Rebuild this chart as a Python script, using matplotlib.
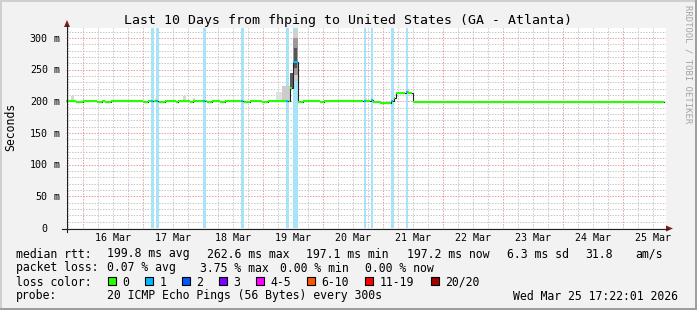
import matplotlib
matplotlib.use("Agg")
import matplotlib.pyplot as plt
from matplotlib.patches import Polygon, Rectangle
from matplotlib.lines import Line2D

W, H = 697, 310
MONO = "DejaVu Sans Mono"

# time axis in days after 16 Mar 00:00 (graph ends Wed Mar 25 17:22:01)
T_START, T_END = -0.2764, 9.7236
Y_MAX = 315.8

day_labels = ["16 Mar", "17 Mar", "18 Mar", "19 Mar", "20 Mar",
              "21 Mar", "22 Mar", "23 Mar", "24 Mar", "25 Mar"]
y_ticks = [0, 50, 100, 150, 200, 250, 300]
y_tick_nums = ["0", "50", "100", "150", "200", "250", "300"]

# median rtt as steps: start of step (days), value (ms), lost pings (of 20)
seg_start = [-0.276, -0.108, 0.008, 0.242, 0.325, 0.375, 0.475, 1.008, 1.092,
             1.142, 1.183, 1.225, 1.267, 1.375, 1.558, 1.592, 1.792, 1.842,
             2.008, 2.050, 2.075, 2.158, 2.292, 2.375, 2.642, 2.683, 2.792,
             2.992, 3.092, 3.392, 3.433, 3.458, 3.500, 3.592, 3.675, 3.958,
             4.025, 4.683, 4.725, 4.800, 4.842, 4.958, 5.142, 5.183, 5.217,
             5.383, 5.425, 5.500, 5.958, 6.008, 6.708, 6.775, 7.292, 7.358,
             7.958, 8.008, 8.625, 8.692, 9.292, 9.342]
seg_value = [199.9, 198.4, 199.9, 198.4, 199.9, 198.4, 199.9, 198.4, 199.9,
             199.9, 199.9, 201.0, 198.4, 199.9, 198.4, 199.9, 198.4, 199.9,
             199.9, 199.9, 198.4, 199.9, 198.4, 199.9, 199.9, 198.4, 199.9,
             198.4, 199.9, 199.9, 199.9, 221.0, 262.6, 198.4, 199.9, 198.4,
             199.9, 199.9, 199.9, 202.0, 198.4, 197.5, 199.9, 205.0, 212.7,
             214.0, 212.7, 199.4, 198.4, 199.4, 198.4, 199.4, 198.4, 199.4,
             198.4, 199.4, 198.4, 199.4, 198.4, 199.4]
seg_loss = [0, 0, 0, 0, 0, 0, 0, 0, 0,
            1, 0, 1, 0, 0, 0, 0, 0, 0,
            1, 0, 0, 0, 0, 0, 1, 0, 0,
            0, 0, 1, 0, 0, 1, 0, 0, 0,
            0, 1, 0, 1, 0, 0, 1, 0, 0,
            1, 0, 0, 0, 0, 0, 0, 0, 0,
            0, 0, 0, 0, 0, 0]

# smoke (spread of the 20 pings): start, end, low, high, shade
smoke_t0 = [-0.192, 1.208, 1.675, 1.842, 3.225, 3.325, 3.458, 3.500, 3.508, 3.525, 5.383, 4.690]
smoke_t1 = [-0.142, 1.258, 1.725, 1.875, 3.392, 3.458, 3.500, 3.592, 3.585, 3.570, 5.433, 4.740]
smoke_lo = [200, 200, 200, 200, 200, 200, 221, 232, 242, 252, 213, 200]
smoke_hi = [208, 206, 209, 205, 215, 224, 245, 313, 300, 285, 220, 205]
smoke_shade = ["#d6d6d6", "#d6d6d6", "#d6d6d6", "#d6d6d6", "#e0e0e0", "#cccccc",
               "#5a5a5a", "#d0d0d0", "#9a9a9a", "#555555", "#cccccc", "#d6d6d6"]

loss_names = ["0", "1", "2", "3", "4-5", "6-10", "11-19", "20/20"]
loss_colors = ["#26ff00", "#00b8ff", "#0059ff", "#7e00ff",
               "#ff00ff", "#ff5500", "#ff0000", "#a10000"]
loss_bar_colors = ["#26ff00", "#a8e4f8", "#a0bcff", "#cca6ff",
                   "#ffa6ff", "#ffbea6", "#ffa6a6", "#d9a6a6"]

legend_rtt = [("median rtt:", 16), ("199.8 ms avg", 107.3), ("262.6 ms max", 207.3),
              ("197.1 ms min", 306.0), ("197.2 ms now", 406.7), ("6.3 ms sd", 507.3),
              ("31.8", 585.7), ("am/s", 635.0)]
legend_loss = [("packet loss:", 16), ("0.07 % avg", 107.3), ("3.75 % max", 200.0),
               ("0.00 % min", 280.5), ("0.00 % now", 365.0)]
loss_box_x = [107.7, 145.4, 182.1, 218.8, 255.5, 307.2, 365.3, 430.5]


def fx(x):
    return x / W


def fy(y):
    return 1 - y / H


def lgd_class(n):
    if n <= 3:
        return n
    if n <= 5:
        return 4
    if n <= 10:
        return 5
    if n <= 19:
        return 6
    return 7


fig = plt.figure(figsize=(W / 100, H / 100), dpi=100)
fig.patch.set_facecolor("#f2f2f2")

ax = fig.add_axes([fx(66), fy(228), 600 / W, 200 / H])
ax.set_facecolor("white")
ax.set_xlim(T_START, T_END)
ax.set_ylim(0, Y_MAX)
ax.set_xticks([])
ax.set_yticks([])
for s in ax.spines.values():
    s.set_visible(False)

dots = (0, (1.4, 1.4))
# vertical grid: minor every 6 h, major at midnight
for q in range(-1, 40):
    t = q / 4
    if t <= T_START or t >= T_END:
        continue
    if q % 4 == 0:
        ax.axvline(t, color="#ec9a9a", lw=0.72, ls=dots, zorder=1)
    else:
        ax.axvline(t, color="#c6c6c6", lw=0.72, ls=dots, zorder=1)
# horizontal grid: minor every 10 ms, major every 50 ms
for v in range(10, 320, 10):
    if v % 50 == 0:
        ax.axhline(v, color="#ec9a9a", lw=0.72, ls=dots, zorder=1)
    else:
        ax.axhline(v, color="#c6c6c6", lw=0.72, ls=dots, zorder=1)

seg_end = seg_start[1:] + [T_END - 0.03]

# loss bars over the full height
for t0, t1, n in zip(seg_start, seg_end, seg_loss):
    if n > 0:
        ax.axvspan(t0, t1, color=loss_bar_colors[lgd_class(n)], lw=0, zorder=2)

# smoke
for t0, t1, lo, hi, c in zip(smoke_t0, smoke_t1, smoke_lo, smoke_hi, smoke_shade):
    ax.fill_between([t0, t1], [lo, lo], [hi, hi], color=c, lw=0, zorder=3)

# median: dark step line, then loss coloured pieces
xs, ys = [], []
for t0, t1, v in zip(seg_start, seg_end, seg_value):
    xs += [t0, t1]
    ys += [v, v]
ax.plot(xs, ys, color="#202020", lw=0.8, zorder=4, solid_joinstyle="miter")
for t0, t1, v, n in zip(seg_start, seg_end, seg_value, seg_loss):
    ax.hlines(v, t0 + 0.004, t1 - 0.004, color=loss_colors[lgd_class(n)],
              lw=1.5, zorder=5)

# axes lines and arrows
fig.add_artist(Line2D([fx(62), fx(668)], [fy(228.5), fy(228.5)],
                      color="#1f1f1f", lw=0.8))
fig.add_artist(Line2D([fx(67), fx(67)], [fy(232), fy(25)],
                      color="#1f1f1f", lw=0.8))
fig.add_artist(Polygon([(fx(666), fy(225.5)), (fx(673), fy(228.5)), (fx(666), fy(231.5))],
                       closed=True, color="#801f1f", lw=0))
fig.add_artist(Polygon([(fx(64), fy(27)), (fx(67), fy(20)), (fx(70), fy(27))],
                       closed=True, color="#801f1f", lw=0))

# texts
fig.text(fx(348.5), fy(24), "Last 10 Days from fhping to United States (GA - Atlanta)",
         family=MONO, fontsize=9.5, ha="center", va="baseline")
fig.text(fx(10.5), fy(127), "Seconds", family=MONO, fontsize=8.3, rotation=90,
         ha="center", va="center")
fig.text(fx(688), fy(5), "RRDTOOL / TOBI OETIKER", family=MONO, fontsize=6.4,
         rotation=270, ha="center", va="top", color="#a4a4a4")

for i, lab in enumerate(day_labels):
    t = i + 0.5
    xp = 66 + (t - T_START) / (T_END - T_START) * 600
    fig.text(fx(xp), fy(241), lab, family=MONO, fontsize=7.2,
             ha="center", va="baseline")

for v, lab in zip(y_ticks, y_tick_nums):
    yp = 228.5 - v / Y_MAX * 200
    fig.text(fx(47.8), fy(yp), lab, family=MONO, fontsize=7.2, ha="right", va="center")
    if v > 0:
        fig.text(fx(53.3), fy(yp), "m", family=MONO, fontsize=7.2, ha="left", va="center")

for s, x in legend_rtt:
    fig.text(fx(x), fy(257.5), s, family=MONO, fontsize=8.3, ha="left", va="baseline")
for s, x in legend_loss:
    fig.text(fx(x), fy(271.5), s, family=MONO, fontsize=8.3, ha="left", va="baseline")

fig.text(fx(16), fy(285.5), "loss color:", family=MONO, fontsize=8.3,
         ha="left", va="baseline")
for name, col, x in zip(loss_names, loss_colors, loss_box_x):
    fig.add_artist(Rectangle((fx(x), fy(285)), 8 / W, 8 / H, facecolor=col,
                             edgecolor="black", lw=0.8))
    fig.text(fx(x + 14.5), fy(285.5), name, family=MONO, fontsize=8.3,
             ha="left", va="baseline")

fig.text(fx(16), fy(299.5), "probe:", family=MONO, fontsize=8.3, ha="left", va="baseline")
fig.text(fx(107.3), fy(299.5), "20 ICMP Echo Pings (56 Bytes) every 300s", family=MONO,
         fontsize=8.3, ha="left", va="baseline")
fig.text(fx(513.3), fy(299.5), "Wed Mar 25 17:22:01 2026", family=MONO,
         fontsize=8.3, ha="left", va="baseline")

# 3d frame around the image
fig.add_artist(Rectangle((0, 1 - 2 / H), 1, 2 / H, color="#cfcfcf", lw=0))
fig.add_artist(Rectangle((0, 0), 2 / W, 1, color="#cfcfcf", lw=0))
fig.add_artist(Rectangle((0, 0), 1, 2 / H, color="#9e9e9e", lw=0))
fig.add_artist(Rectangle((1 - 2 / W, 0), 2 / W, 1, color="#9e9e9e", lw=0))

fig.savefig("out.png", dpi=100, facecolor=fig.get_facecolor())
